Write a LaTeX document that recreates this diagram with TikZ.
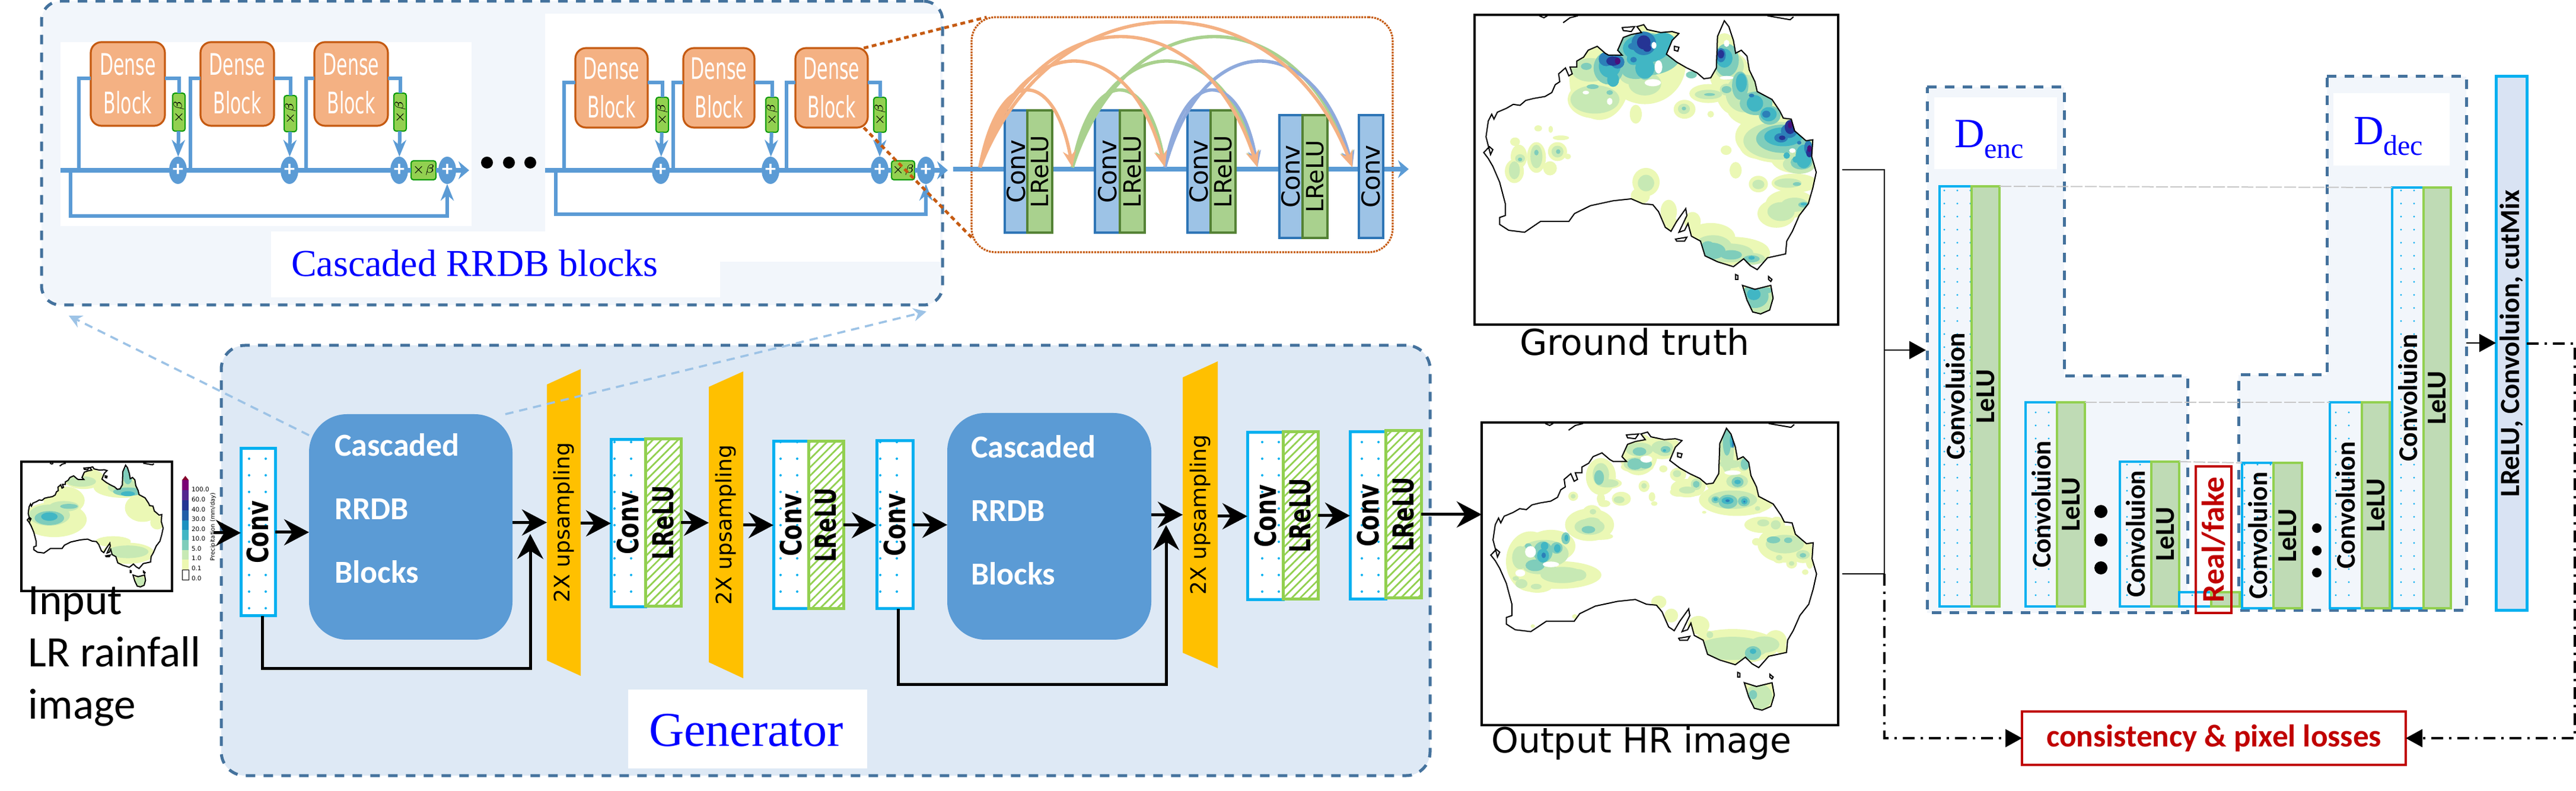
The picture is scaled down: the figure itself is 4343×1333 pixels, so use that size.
\documentclass[tikz,border=0pt]{standalone}
\usepackage{fontspec}
\setmainfont{Carlito}
\newfontfamily\djv{DejaVu Sans}
\newfontfamily\libser{Liberation Serif}
\usetikzlibrary{arrows.meta,shapes.geometric,patterns.meta}

\definecolor{frameblue}{HTML}{44729D}
\definecolor{genfill}{HTML}{DEE9F5}
\definecolor{palefill}{HTML}{F2F6FB}
\definecolor{lineblue}{HTML}{5B9BD5}
\definecolor{linkblue}{HTML}{9DC3E6}
\definecolor{cyanedge}{HTML}{00B0F0}
\definecolor{limeedge}{HTML}{92D050}
\definecolor{densefill}{HTML}{F4B183}
\definecolor{rust}{HTML}{C55A11}
\definecolor{bandorange}{HTML}{FFC000}
\definecolor{lossred}{HTML}{C00000}
\definecolor{jumpgreen}{HTML}{A9D18E}
\definecolor{jumpblue}{HTML}{8FAADC}
\definecolor{smallgreen}{HTML}{A9D18E}
\definecolor{smalledge}{HTML}{548235}
\definecolor{smallblue}{HTML}{2E75B6}
\definecolor{lelufill}{HTML}{BFDBB5}
\definecolor{barfill}{HTML}{D9E3F3}
\definecolor{rainlight}{HTML}{EBF8B5}
\definecolor{rainmid}{HTML}{C7E9B4}
\definecolor{rainteal}{HTML}{7FCDBB}
\definecolor{rainblue}{HTML}{41B6C4}
\definecolor{raindeep}{HTML}{2C7FB8}
\definecolor{raindark}{HTML}{253494}
\definecolor{rainplum}{HTML}{4A0F7C}

\newcommand{\px}{0.25pt}
\newcommand{\fs}[2]{\fontsize{#1}{#2}\selectfont}
\newcommand{\cellbox}[7]{\node (#1) [#2, minimum width={(#5-#3)*\px}, minimum height={(#6-#4)*\px}] at ({(#3+#5)/2},{(#4+#6)/2}) {#7};}
\newcommand{\denselabel}{\scalebox{.6}[1]{Dense}\\\scalebox{.6}[1]{Block}}
\newcommand{\tallconv}{\rotatebox{90}{\scalebox{1}[1.3]{Conv}}}
\newcommand{\tallrelu}{\rotatebox{90}{\scalebox{1}[1.35]{LReLU}}}
\newcommand{\rainblobs}[2]{\foreach \cx/\cy/\rx/\ry in {#2} {\fill[#1] (\cx,\cy) ellipse ({1.2*\rx} and {1.2*\ry});}}
\newcommand{\auspath}{(30,700) -- (55,670) -- (70,685) -- (60,710) -- (40,620) -- (50,540) -- (65,505) -- (75,530) -- (90,495) -- (130,475) -- (160,455) -- (190,460) -- (215,435) -- (250,425) -- (300,415) -- (330,395) -- (345,355) -- (365,340) -- (360,300) -- (390,270) -- (405,310) -- (420,300) -- (410,265) -- (440,265) -- (440,235) -- (470,215) -- (490,180) -- (530,160) -- (565,195) -- (580,205) -- (640,205) -- (620,180) -- (645,115) -- (680,100) -- (725,90) -- (705,60) -- (735,50) -- (750,75) -- (810,90) -- (860,85) -- (890,95) -- (860,130) -- (835,200) -- (880,240) -- (925,270) -- (970,295) -- (1000,325) -- (1030,320) -- (1055,270) -- (1060,110) -- (1090,30) -- (1110,60) -- (1130,130) -- (1140,195) -- (1165,180) -- (1190,210) -- (1200,280) -- (1225,340) -- (1235,390) -- (1300,430) -- (1335,490) -- (1350,525) -- (1385,530) -- (1400,590) -- (1450,640) -- (1480,635) -- (1475,720) -- (1495,800) -- (1480,880) -- (1460,960) -- (1420,1020) -- (1390,1100) -- (1365,1150) -- (1360,1215) -- (1280,1235) -- (1235,1295) -- (1205,1275) -- (1175,1240) -- (1130,1280) -- (1060,1255) -- (1005,1225) -- (985,1150) -- (945,1125) -- (930,1060) -- (915,1095) -- (890,1105) -- (925,1020) -- (920,985) -- (880,1050) -- (855,1100) -- (830,1080) -- (800,1000) -- (775,965) -- (730,960) -- (680,935) -- (600,945) -- (500,970) -- (430,1010) -- (405,1050) -- (280,1050) -- (210,1105) -- (140,1095) -- (100,1065) -- (100,1030) -- (125,1020) -- (125,960) -- (100,850) -- (70,770) -- (50,730) -- cycle (1170,1375) -- (1225,1395) -- (1295,1375) -- (1305,1440) -- (1290,1500) -- (1250,1520) -- (1215,1510) -- (1190,1450) -- cycle}
\newcommand{\auscoast}{\draw[coastline] \auspath; \draw[coastline] (275,5) -- (295,15) -- (310,5) (380,40) -- (410,15) -- (445,5) (1280,5) -- (1380,25) -- (1395,10) (875,1140) -- (925,1130) -- (915,1150) -- (880,1150) -- cycle (1140,1320) -- (1150,1325) -- (1150,1345) -- (1140,1345) -- cycle (1285,1330) -- (1300,1345) -- (1295,1355) -- (1285,1345) -- cycle (870,160) -- (890,165) -- (885,185) -- (870,180) -- cycle (640,65) -- (695,60) -- (680,85) -- (645,80) -- cycle;}

\tikzset{
  every node/.style={inner sep=0pt,outer sep=0pt},
  framebox/.style={draw=frameblue,line width=1.25pt,dash pattern=on 4pt off 3.5pt,rounded corners=8pt},
  whitepatch/.style={fill=white},
  densebox/.style={draw=rust,fill=densefill,line width=.8pt,rounded corners=4.5pt,text=white,align=center,font=\djv\fs{12.5}{16.25}},
  betabox/.style={draw=green!60!black,fill=limeedge,line width=.5pt,rounded corners=1pt,font=\fs{5}{6}},
  adder/.style={ellipse,fill=lineblue,minimum width=30*\px,minimum height=46*\px,text=white,font=\bfseries\fs{9}{9}},
  resline/.style={draw=lineblue,line width=1.5pt},
  resmain/.style={draw=lineblue,line width=2pt},
  restip/.style={-{Stealth[length=7pt,width=5.5pt]}},
  mainend/.style={-{Stealth[length=4.5pt,width=7.5pt]}},
  smallconv/.style={draw=smallblue,fill=linkblue,line width=.9pt,font=\djv\fs{10.5}{10.5}},
  smallrelu/.style={draw=smalledge,fill=smallgreen,line width=.9pt,font=\djv\fs{10}{10}},
  orangeframe/.style={draw=rust,line width=.8pt,dash pattern=on .8pt off .4pt,rounded corners=10pt},
  orangelink/.style={draw=rust,line width=1.2pt,dash pattern=on 2pt off 1.5pt},
  jump/.style={line width=1.4pt,-{Stealth[length=7pt,width=5.5pt]}},
  genframe/.style={framebox,fill=genfill,rounded corners=10pt},
  convcell/.style={draw=cyanedge,line width=1.25pt,preaction={fill=white},pattern={Dots[distance=7pt,radius=.5pt]},pattern color=cyanedge,font=\djv\bfseries\fs{9.5}{9.5}},
  relucell/.style={draw=limeedge,line width=1.25pt,preaction={fill=white},pattern={Lines[angle=45,distance=2.5pt,line width=.7pt]},pattern color=limeedge,font=\djv\bfseries\fs{9}{9}},
  rrdbblock/.style={fill=lineblue,rounded corners=16pt},
  rrdblabel/.style={anchor=north west,text=white,align=left,font=\bfseries\fs{13.5}{26.75}},
  upband/.style={font=\djv\fs{9}{9}},
  bigarrow/.style={line width=1.25pt,-{Stealth[length=10.5pt,width=11pt,inset=3.5pt]}},
  linkarrow/.style={draw=linkblue,line width=.9pt,dash pattern=on 3.5pt off 2.5pt,-{Stealth[length=5.5pt,width=5.5pt]}},
  mapframe/.style={draw=black,fill=white,line width=.8pt},
  coastline/.style={draw=black,line width=.5pt},
  bluetitle/.style={text=blue,font=\libser},
  bustrunk/.style={line width=.7pt},
  dotdash/.style={line width=.8pt,dash pattern=on 5pt off 2.5pt on 1pt off 2.5pt},
  headarrow/.style={-{Triangle[length=7pt,width=7.5pt]}},
  discframe/.style={draw=frameblue,fill=palefill,line width=1.25pt,dash pattern=on 4pt off 3.5pt},
  disconv/.style={draw=cyanedge,line width=1.1pt,preaction={fill=palefill},pattern={Dots[distance=5.5pt,radius=.4pt]},pattern color=cyanedge,font=\bfseries\fs{11.4}{11.4}},
  diselu/.style={draw=limeedge,fill=lelufill,line width=1.1pt,font=\bfseries\fs{11.5}{11.5}},
  tieline/.style={draw=black!22,line width=.5pt,dash pattern=on 5pt off 1pt},
  redbox/.style={draw=lossred,line width=1pt,text=lossred,font=\bfseries\fs{13.3}{13.3}},
  fullbar/.style={draw=cyanedge,fill=barfill,line width=1.25pt,font=\bfseries\fs{11.7}{11.7}},
}

\begin{document}
\begin{tikzpicture}[x=0.25pt,y=0.25pt,yscale=-1,xscale=1]
\useasboundingbox (0,0) rectangle (4343,1333);

%Cascaded RRDB frame
\cellbox{rrdbframe}{framebox,fill=palefill}{70}{2}{1589}{514}{}
\fill[whitepatch] (102,71) rectangle (795,381);
\fill[whitepatch] (919,23) rectangle (1585,441);
\fill[whitepatch] (457,390) rectangle (1214,501);
\node (rrdbtitle) [bluetitle,font=\libser\fs{16}{16},anchor=base west] at (491,466) {Cascaded RRDB blocks};

%Dense blocks, left strip
\cellbox{densea}{densebox}{153}{71}{278}{212}{\denselabel}
\cellbox{denseb}{densebox}{338}{71}{462}{212}{\denselabel}
\cellbox{densec}{densebox}{530}{71}{654}{212}{\denselabel}
\cellbox{betaa}{betabox}{291}{157}{312}{221}{\rotatebox{90}{$\times\beta$}}
\cellbox{betab}{betabox}{479}{161}{500}{222}{\rotatebox{90}{$\times\beta$}}
\cellbox{betac}{betabox}{664}{157}{685}{221}{\rotatebox{90}{$\times\beta$}}
\cellbox{betaout}{betabox}{693}{271}{735}{303}{$\times\beta$}
\node (addera) [adder] at (300,287) {+};
\node (adderb) [adder] at (488,287) {+};
\node (adderc) [adder] at (673,287) {+};
\node (adderd) [adder] at (754,287) {+};
\coordinate (mainin) at (102,287);
\coordinate (mainout) at (791,287);
\coordinate (skiptop) at (0,132);
\coordinate (skipa) at (133,287);
\coordinate (skipb) at (321,287);
\coordinate (skipc) at (516,287);
\coordinate (longin) at (119,287);
\coordinate (longfoot) at (119,364);
\draw[resmain,mainend] (mainin) -- (addera) -- (adderb) -- (adderc) -- (betaout) -- (adderd) -- (mainout);
\draw[resline] (skipa) |- (densea.west |- skiptop);
\draw[resline] (densea.east |- skiptop) -| (betaa.north);
\draw[resline] (skipb) |- (denseb.west |- skiptop);
\draw[resline] (denseb.east |- skiptop) -| (betab.north);
\draw[resline] (skipc) |- (densec.west |- skiptop);
\draw[resline] (densec.east |- skiptop) -| (betac.north);
\draw[resline,restip] (betaa) -- (addera);
\draw[resline,restip] (betab) -- (adderb);
\draw[resline,restip] (betac) -- (adderc);
\draw[resline,restip] (longin) -- (longfoot) -| (adderd.south);
\fill (821,274) circle (10);
\fill (858,274) circle (10);
\fill (894,274) circle (10);

%Dense blocks, right strip
\cellbox{densed}{densebox}{970}{81}{1092}{215}{\denselabel}
\cellbox{densee}{densebox}{1152}{81}{1272}{215}{\denselabel}
\cellbox{densef}{densebox}{1341}{81}{1463}{215}{\denselabel}
\cellbox{betad}{betabox}{1106}{164}{1127}{223}{\rotatebox{90}{$\times\beta$}}
\cellbox{betae}{betabox}{1291}{164}{1312}{223}{\rotatebox{90}{$\times\beta$}}
\cellbox{betaf}{betabox}{1473}{164}{1494}{223}{\rotatebox{90}{$\times\beta$}}
\cellbox{betaend}{betabox}{1503}{271}{1542}{303}{$\times\beta$}
\node (addere) [adder] at (1114,287) {+};
\node (adderf) [adder] at (1299,287) {+};
\node (adderg) [adder] at (1483,287) {+};
\node (adderh) [adder] at (1561,287) {+};
\coordinate (mainrin) at (919,287);
\coordinate (mainrout) at (1598,287);
\coordinate (skiptopr) at (0,139);
\coordinate (skipd) at (951,287);
\coordinate (skipe) at (1135,287);
\coordinate (skipf) at (1326,287);
\coordinate (longrin) at (937,287);
\coordinate (longrfoot) at (937,361);
\draw[resmain,mainend] (mainrin) -- (addere) -- (adderf) -- (adderg) -- (betaend) -- (adderh) -- (mainrout);
\draw[resline] (skipd) |- (densed.west |- skiptopr);
\draw[resline] (densed.east |- skiptopr) -| (betad.north);
\draw[resline] (skipe) |- (densee.west |- skiptopr);
\draw[resline] (densee.east |- skiptopr) -| (betae.north);
\draw[resline] (skipf) |- (densef.west |- skiptopr);
\draw[resline] (densef.east |- skiptopr) -| (betaf.north);
\draw[resline,restip] (betad) -- (addere);
\draw[resline,restip] (betae) -- (adderf);
\draw[resline,restip] (betaf) -- (adderg);
\draw[resline,restip] (longrin) -- (longrfoot) -| (adderh.south);

%Inside of a dense block
\cellbox{denseframe}{orangeframe,fill=white}{1638}{29}{2348}{425}{}
\coordinate (denseinl) at (1607,285);
\coordinate (denseoutl) at (2375,285);
\draw[resmain,mainend] (denseinl) -- (denseoutl);
\cellbox{sconva}{smallconv}{1694}{186}{1732}{392}{\rotatebox{90}{Conv}}
\cellbox{srelua}{smallrelu}{1732}{186}{1774}{392}{\rotatebox{90}{LReLU}}
\cellbox{sconvb}{smallconv}{1846}{186}{1888}{392}{\rotatebox{90}{Conv}}
\cellbox{sreluc}{smallrelu}{1888}{186}{1930}{392}{\rotatebox{90}{LReLU}}
\cellbox{sconvc}{smallconv}{2002}{186}{2041}{392}{\rotatebox{90}{Conv}}
\cellbox{srelud}{smallrelu}{2041}{186}{2083}{392}{\rotatebox{90}{LReLU}}
\cellbox{sconvd}{smallconv}{2157}{194}{2196}{401}{\rotatebox{90}{Conv}}
\cellbox{srelue}{smallrelu}{2196}{194}{2238}{401}{\rotatebox{90}{LReLU}}
\cellbox{sconve}{smallconv}{2291}{194}{2332}{401}{\rotatebox{90}{Conv}}
\coordinate (tapa) at (1652,282);
\coordinate (tapb) at (1808,282);
\coordinate (tapc) at (1964,282);
\coordinate (tapd) at (2120,282);
\coordinate (tape) at (2280,282);
\draw[jump,color=jumpgreen] (tapb) .. controls +(31,-171) and +(-31,-171) .. (tapc);
\draw[jump,color=jumpgreen] (tapb) .. controls +(62,-236) and +(-62,-236) .. (tapd);
\draw[jump,color=jumpgreen] (tapb) .. controls +(94,-291) and +(-94,-291) .. (tape);
\draw[jump,color=jumpblue] (tapc) .. controls +(31,-171) and +(-31,-171) .. (tapd);
\draw[jump,color=jumpblue] (tapc) .. controls +(63,-236) and +(-63,-236) .. (tape);
\draw[jump,color=densefill] (tapa) .. controls +(31,-171) and +(-31,-171) .. (tapb);
\draw[jump,color=densefill] (tapa) .. controls +(62,-236) and +(-62,-236) .. (tapc);
\draw[jump,color=densefill] (tapa) .. controls +(94,-291) and +(-94,-291) .. (tapd);
\draw[jump,color=densefill] (tapa) .. controls +(126,-324) and +(-126,-324) .. (tape);
\draw[orangelink] (densef.51) -- (denseframe.149);
\draw[orangelink] (densef.-51) -- (denseframe.206);

%Generator
\cellbox{genframe}{genframe}{373}{582}{2411}{1307}{}
\fill[whitepatch] (1059,1162) rectangle (1462,1295);
\node (gentitle) [bluetitle,font=\libser\fs{20.5}{20.5},anchor=base west] at (1094,1257) {Generator};

\fill[bandorange] (922,648) -- (979,622) -- (979,1139) -- (922,1113) -- cycle;
\fill[bandorange] (1195,652) -- (1253,626) -- (1253,1143) -- (1195,1116) -- cycle;
\fill[bandorange] (1994,636) -- (2053,609) -- (2053,1126) -- (1994,1100) -- cycle;
\cellbox{upa}{upband}{922}{622}{979}{1139}{\rotatebox{90}{2X upsampling}}
\cellbox{upb}{upband}{1195}{626}{1253}{1143}{\rotatebox{90}{2X upsampling}}
\cellbox{upc}{upband}{1994}{609}{2053}{1126}{\rotatebox{90}{2X upsampling}}

\cellbox{convin}{convcell}{406}{756}{464}{1038}{\tallconv}
\cellbox{casca}{rrdbblock}{521}{698}{864}{1078}{}
\node (cascalabel) [rrdblabel] at (564,731) {Cascaded\\RRDB\\Blocks};
\cellbox{conva}{convcell}{1030}{741}{1088}{1023}{\tallconv}
\cellbox{relua}{relucell}{1088}{740}{1148}{1022}{\tallrelu}
\cellbox{convb}{convcell}{1304}{744}{1363}{1026}{\tallconv}
\cellbox{relub}{relucell}{1363}{744}{1422}{1026}{\tallrelu}
\cellbox{convc}{convcell}{1478}{743}{1539}{1026}{\tallconv}
\cellbox{cascb}{rrdbblock}{1597}{696}{1941}{1078}{}
\node (cascblabel) [rrdblabel] at (1637,734) {Cascaded\\RRDB\\Blocks};
\cellbox{convd}{convcell}{2103}{729}{2163}{1011}{\tallconv}
\cellbox{relud}{relucell}{2163}{728}{2222}{1010}{\tallrelu}
\cellbox{conve}{convcell}{2276}{728}{2336}{1010}{\tallconv}
\cellbox{relue}{relucell}{2336}{726}{2396}{1008}{\tallrelu}

%Dashed links to the upper frame
\coordinate (linktipa) at (116,532);
\coordinate (linktipb) at (1562,525);
\draw[linkarrow] (casca.138) -- (linktipa);
\draw[linkarrow] (casca.50) -- (linktipb);

%Input map
\cellbox{lrmap}{mapframe}{36}{778}{290}{996}{}
\begin{scope}[shift={(41.3,779.9)},x=0.0391pt,y=0.0344pt]
\begin{scope}
\clip \auspath;
\begin{scope}[shift={(-261,-1603)},x=0.2068pt,y=0.1235pt]
\rainblobs{rainlight}{110/640/55/50,130/575/35/40,170/500/35/30,250/530/50/30,290/600/30/40,320/650/12/20,260/755/45/30,230/715/30/15,285/850/12/18}
\rainblobs{rainmid}{100/625/35/30,130/595/25/15,165/510/25/15,255/530/30/20,260/750/35/18,285/850/8/14}
\rainblobs{rainteal}{100/635/25/20,140/595/15/7,260/545/25/12,260/490/8/25}
\rainblobs{rainblue}{100/630/14/12,260/552/12/7}
\end{scope}
\end{scope}
\auscoast
\end{scope}
\fill[white,draw=black,line width=.2pt] (307,977) rectangle (318,960);
\foreach \top/\tint [count=\i] in {960/EDF8B1,943/C7E9B4,927/7FCDBB,910/41B6C4,893/1D91C0,877/225EA8,860/253494,843/54278F,826/7A0177} {
  \definecolor{barcol}{HTML}{\tint}
  \fill[barcol] (307,\top) rectangle (318,\top-17);
}
\fill[fill=purple!70!black] (307,809) -- (312.5,802) -- (318,809) -- cycle;
\foreach \val/\yy [count=\i] in {100.0/825,60.0/842,40.0/859,30.0/875,20.0/892,10.0/908,5.0/925,1.0/941,0.1/958,0.0/975} {
  \node (barlabel\i) [anchor=west,font=\djv\fs{2.6}{3}] at (323,\yy) {\val};
}
\node (barname) [font=\djv\fs{2.5}{3}] at (359,888) {\rotatebox{90}{Precipitation (mm/day)}};
\node (inputlabel) [anchor=north west,align=left,font=\fs{18.3}{22}] at (48,989) {Input\\LR rainfall\\image};

%Generator arrows
\coordinate (inputtail) at (360,898);
\coordinate (skipaout) at (442,1038);
\coordinate (skipacor) at (442,1127);
\coordinate (skipatip) at (894,900);
\coordinate (skipbout) at (1514,1026);
\coordinate (skipbcor) at (1514,1154);
\coordinate (skipbtip) at (1966,885);
\draw[bigarrow] (inputtail) -- (inputtail -| convin.west);
\draw[bigarrow] (convin.east) -- (convin.east -| casca.west);
\draw[bigarrow] (upa.west -| casca.east) -- (upa.west);
\draw[bigarrow] (upa.east |- conva.west) -- (conva.west);
\draw[bigarrow] (relua.east) -- (relua.east -| upb.west);
\draw[bigarrow] (upb.east |- convb.west) -- (convb.west);
\draw[bigarrow] (relub.east) -- (relub.east -| convc.west);
\draw[bigarrow] (convc.east) -- (convc.east -| cascb.west);
\draw[bigarrow] (upc.west -| cascb.east) -- (upc.west);
\draw[bigarrow] (upc.east |- convd.west) -- (convd.west);
\draw[bigarrow] (relud.east) -- (relud.east -| conve.west);
\draw[bigarrow] (skipaout) -- (skipacor) -- (skipacor -| skipatip) -- (skipatip);
\draw[bigarrow] (skipbout) -- (skipbcor) -- (skipbcor -| skipbtip) -- (skipbtip);

%Ground truth map
\cellbox{gtmap}{mapframe}{2486}{25}{3099}{547}{}
\begin{scope}[shift={(2490,25)},x=0.09566pt,y=0.0829pt]
\begin{scope}
\clip \auspath;
\rainblobs{rainlight}{540/330/110/170,740/250/150/170,860/200/50/110,520/430/100/80,700/505/22/40,915/480/40/40,1030/505/12/14,270/577/14/13,325/582/8/15,370/625/30/10,168/645/18/18,185/720/30/50,165/795/35/50,262/725/35/65,355/695/35/40,322/780/25/30,400/720/12/12,745/850/50/60,720/920/35/35,1090/250/60/130,1130/350/70/130,1020/400/70/40,1220/470/100/80,1330/620/160/110,1240/660/70/60,1400/720/90/70,1098/688/20/20,1140/790/22/35,1240/860/35/35,1400/855/85/40,1380/960/90/60,1320/1010/70/60,845/1000/30/50,850/1060/30/30,950/1050/30/40,1030/1130/90/60,1120/1200/140/60,1220/1210/60/40,1235/1450/75/75}
\rainblobs{rainmid}{520/430/90/60,740/350/60/50,700/310/60/40,500/280/70/50,1110/260/55/60,1100/380/25/25,1180/400/70/80,1020/405/50/20,912/478/22/22,190/730/18/18,165/790/20/38,262/720/22/50,355/695/22/25,745/855/30/35,1240/862/22/20,1370/855/50/20,1340/1000/50/40,1400/965/50/30,1330/640/130/80,1420/760/60/40,1040/1180/70/50,1110/1210/90/40,1210/1240/50/25,1240/1440/60/65}
\rainblobs{rainteal}{482/262/20/15,510/365/22/10,585/395/12/10,580/270/55/70,745/200/130/90,700/290/50/30,740/270/30/50,800/240/15/15,945/305/20/15,1100/230/45/70,1160/360/30/60,1230/450/60/50,1290/510/40/40,1350/630/100/60,1430/750/40/30,1100/380/18/15,262/700/8/12,358/695/8/10,190/735/8/8,912/476/8/8,1025/405/20/6,1410/860/15/8,1035/1200/50/35,1120/1220/40/20,1210/1240/30/15,1440/965/20/12,1225/1430/50/50,1280/1400/20/12,1018/1180/25/25}
\rainblobs{rainblue}{585/260/40/50,600/330/22/30,740/270/35/45,745/170/85/60,820/150/50/50,690/225/25/25,1090/220/30/40,1165/345/20/40,1225/450/30/35,1285/505/30/30,1350/620/70/40,1400/590/30/30,1440/720/30/50,1365/715/12/14,1405/735/12/14,1210/1235/12/8,1220/1420/25/25,1440/962/12/6}
\rainblobs{raindeep}{570/225/28/30,620/240/25/28,735/145/45/50,690/160/20/15,690/228/12/12,1075/205/18/30,1275/505/15/15,1340/625/25/20,1375/590/30/30,1460/675/15/30,1210/410/10/8,1420/650/8/8}
\rainblobs{raindark}{600/235/25/20,735/140/25/30,750/170/15/15,1075/200/12/18,1380/570/20/30,1465/700/12/20,1345/625/12/10}
\rainblobs{rainplum}{620/235/10/15,1465/680/8/15,1380/560/8/15}
\rainblobs{white}{800/265/14/28,780/155/9/15,1100/145/10/15,480/395/12/8,585/440/10/15,775/345/30/15,1100/320/25/8,1390/690/12/10}
\end{scope}
\auscoast
\end{scope}
\node (gtlabel) [anchor=base west,font=\djv\fs{15}{15}] at (2562,599) {Ground truth};

%Output map
\cellbox{hrmap}{mapframe}{2498}{712}{3099}{1222}{}
\begin{scope}[shift={(2502.1,712.2)},x=0.09372pt,y=0.0797pt]
\begin{scope}
\clip \auspath;
\begin{scope}[shift={(-5.7,-.6)},x=0.09569pt,y=0.08133pt]
\rainblobs{rainlight}{210/720/90/130,330/790/160/60,470/790/28/28,300/640/90/70,240/840/60/35,470/530/90/70,480/470/35/35,520/590/45/15,520/280/55/80,540/315/60/25,610/395/35/30,520/395/15/25,535/420/22/15,398/382/18/20,710/330/20/25,745/385/12/20,755/420/12/10,685/165/70/90,790/130/70/50,680/230/60/25,795/240/15/15,860/270/30/30,900/340/60/40,860/360/30/20,940/320/35/50,1075/200/40/150,1090/310/90/60,1120/400/140/70,1150/230/30/40,1210/445/22/22,975/465/8/6,1230/530/65/35,1295/530/30/35,1330/630/100/80,1305/700/25/25,1360/730/20/22,1410/680/45/40,1205/618/16/16,1440/710/15/40,1420/775/12/12,775/930/28/28,830/1000/25/30,950/1050/40/40,1100/1160/170/75,1290/1130/40/45,1320/1175/25/20,990/1150/40/60,1050/1200/60/40,1215/1420/70/75,220/1055/8/8,405/1005/10/10}
\rainblobs{rainmid}{165/700/30/50,270/680/90/60,250/750/60/30,350/790/80/35,420/790/30/25,170/835/22/20,145/808/12/10,235/850/20/12,470/540/55/35,480/510/30/15,520/270/30/50,550/315/40/18,600/400/20/15,485/462/12/12,398/382/9/10,710/328/10/12,690/140/50/30,680/215/50/30,790/130/40/30,800/150/30/20,855/265/15/15,940/320/20/25,900/350/30/15,1075/150/25/90,1090/215/40/18,1120/305/40/30,1100/400/90/40,1150/215/20/30,1210/445/10/10,1235/520/22/15,1290/530/18/20,1330/630/70/40,1305/700/12/12,1410/685/25/20,1360/730/10/10,1100/1170/130/50,1240/1150/55/35,1000/1100/12/15,1215/1420/50/55}
\rainblobs{rainteal}{200/640/13/12,265/670/35/45,230/740/35/25,325/650/22/25,365/600/16/26,465/555/25/16,512/285/18/32,690/150/25/18,670/215/28/25,715/215/25/20,805/140/18/15,940/320/12/15,1075/100/15/60,1155/215/16/25,1122/308/22/22,1025/400/15/15,1080/410/35/30,1150/408/22/22,1280/608/25/15,1345/610/15/12,1410/688/12/10,1190/1195/30/30,1190/1410/15/20}
\rainblobs{rainblue}{265/690/22/30,272/640/14/18,328/652/12/18,368/598/7/15,1122/308/12/10,1078/405/22/15,1152/408/12/14,1025/398/8/8,1190/1185/12/12,800/145/6/6,1095/95/6/30}
\rainblobs{raindeep}{268/688/8/12,1078/405/8/6,1152/410/4/5,1102/110/4/18}
\rainblobs{white}{165/780/18/15,210/670/20/25,300/735/30/12,1100/260/30/10,720/190/22/15}
\end{scope}
\end{scope}
\auscoast
\end{scope}
\node (hrlabel) [anchor=base west,font=\djv\fs{14.6}{14.6}] at (2514,1268) {Output HR image};
\draw[bigarrow] (relue.east) -- (relue.east -| hrmap.west);

%Discriminator
\filldraw[discframe] (3249,147) -- (3480,147) -- (3480,634) -- (3688,634) -- (3688,1033) -- (3249,1033) -- cycle;
\filldraw[discframe] (3923,129) -- (4158,129) -- (4158,1029) -- (3774,1029) -- (3774,632) -- (3923,632) -- cycle;
\fill[whitepatch] (3261,164) rectangle (3468,285);
\fill[whitepatch] (3934,157) rectangle (4130,279);
\node (enctitle) [bluetitle,font=\libser\fs{17.5}{17.5},anchor=base west] at (3295,249) {D\raisebox{-4.5pt}{\fs{12}{12}enc}};
\node (dectitle) [bluetitle,font=\libser\fs{17.5}{17.5},anchor=base west] at (3968,244) {D\raisebox{-4.5pt}{\fs{12}{12}dec}};

\cellbox{dconva}{disconv}{3270}{314}{3324}{1022}{\rotatebox{90}{Convoluion}}
\cellbox{dlelua}{diselu}{3324}{314}{3371}{1022}{\rotatebox{90}{LeLU}}
\cellbox{dconvb}{disconv}{3415}{678}{3468}{1022}{\rotatebox{90}{Convoluion}}
\cellbox{dlelub}{diselu}{3468}{678}{3515}{1022}{\rotatebox{90}{LeLU}}
\cellbox{dconvc}{disconv}{3574}{778}{3627}{1022}{\rotatebox{90}{Convoluion}}
\cellbox{dleluc}{diselu}{3627}{778}{3674}{1022}{\rotatebox{90}{LeLU}}
\cellbox{dconvd}{disconv}{3674}{998}{3728}{1022}{}
\cellbox{dlelud}{diselu}{3728}{998}{3776}{1022}{}
\cellbox{dconve}{disconv}{3780}{780}{3833}{1025}{\rotatebox{90}{Convoluion}}
\cellbox{dlelue}{diselu}{3833}{780}{3881}{1025}{\rotatebox{90}{LeLU}}
\cellbox{dconvf}{disconv}{3928}{678}{3982}{1025}{\rotatebox{90}{Convoluion}}
\cellbox{dleluf}{diselu}{3982}{678}{4029}{1025}{\rotatebox{90}{LeLU}}
\cellbox{dconvg}{disconv}{4033}{316}{4086}{1025}{\rotatebox{90}{Convoluion}}
\cellbox{dlelug}{diselu}{4086}{316}{4132}{1025}{\rotatebox{90}{LeLU}}
\cellbox{realfake}{redbox}{3702}{786}{3762}{1033}{\rotatebox{90}{Real/fake}}
\draw[tieline] (dlelua.north east) -- (dconvg.north west);
\draw[tieline] (dlelub.north east) -- (dconvf.north west);
\draw[tieline] (dleluc.north east) -- (dconve.north west);
\fill (3542,862) circle (11);
\fill (3542,910) circle (11);
\fill (3542,957) circle (11);
\fill (3906,890) circle (8);
\fill (3906,928) circle (8);
\fill (3906,965) circle (8);

\cellbox{lrelubar}{fullbar}{4208}{129}{4260}{1029}{\rotatebox{90}{LReLU, Convoluion, cutMix}}
\cellbox{lossbox}{redbox}{3409}{1199}{4056}{1289}{consistency \& pixel losses}

%Map trunk and loss lines
\coordinate (busa) at (3177,286);
\coordinate (busb) at (3177,967);
\coordinate (encleft) at (3247,590);
\coordinate (decright) at (4158,578);
\coordinate (railtop) at (4341,579);
\draw[bustrunk,shorten <=7*\px] (gtmap.east) -- (busa) -- (busb);
\draw[bustrunk,shorten <=7*\px] (hrmap.east) -- (busb);
\draw[bustrunk,headarrow] (busa |- encleft) -- (encleft);
\draw[bustrunk,headarrow] (decright) -- (decright -| lrelubar.west);
\draw[dotdash,headarrow] (busb) |- (lossbox.west);
\draw[dotdash,headarrow] (lrelubar.east) -- (railtop) |- (lossbox.east);

\end{tikzpicture}
\end{document}
